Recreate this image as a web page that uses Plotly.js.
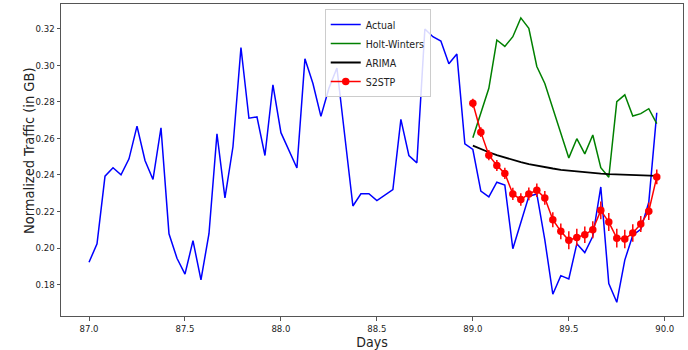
<!DOCTYPE html>
<html>
<head>
<meta charset="utf-8">
<script src="https://cdn.plot.ly/plotly-3.0.1.min.js"></script>
<style>html,body{margin:0;padding:0;background:#fff;}#chart{width:688px;height:350px;}</style>
</head>
<body>
<div id="chart"></div>
<script>
// Time axis (days, hourly samples)
const days = [
  87.0000, 87.0417, 87.0833, 87.1250, 87.1667, 87.2083, 87.2500, 87.2917, 87.3333, 87.3750, 87.4167, 87.4583,
  87.5000, 87.5417, 87.5833, 87.6250, 87.6667, 87.7083, 87.7500, 87.7917, 87.8333, 87.8750, 87.9167, 87.9583,
  88.0000, 88.0417, 88.0833, 88.1250, 88.1667, 88.2083, 88.2500, 88.2917, 88.3333, 88.3750, 88.4167, 88.4583,
  88.5000, 88.5417, 88.5833, 88.6250, 88.6667, 88.7083, 88.7500, 88.7917, 88.8333, 88.8750, 88.9167, 88.9583,
  89.0000, 89.0417, 89.0833, 89.1250, 89.1667, 89.2083, 89.2500, 89.2917, 89.3333, 89.3750, 89.4167, 89.4583,
  89.5000, 89.5417, 89.5833, 89.6250, 89.6667, 89.7083, 89.7500, 89.7917, 89.8333, 89.8750, 89.9167, 89.9583
];
const forecastDays = [
  89.0000, 89.0417, 89.0833, 89.1250, 89.1667, 89.2083, 89.2500, 89.2917, 89.3333, 89.3750, 89.4167, 89.4583,
  89.5000, 89.5417, 89.5833, 89.6250, 89.6667, 89.7083, 89.7500, 89.7917, 89.8333, 89.8750, 89.9167, 89.9583
];
const actual = [
  0.1922, 0.2023, 0.2393, 0.2439, 0.2400, 0.2488, 0.2667, 0.2479, 0.2375, 0.2658, 0.2078, 0.1944,
  0.1857, 0.2040, 0.1826, 0.2078, 0.2625, 0.2274, 0.2554, 0.3097, 0.2710, 0.2717, 0.2506, 0.2893,
  0.2631, 0.2530, 0.2438, 0.3035, 0.2900, 0.2720, 0.2874, 0.2985, 0.2605, 0.2230, 0.2297, 0.2297,
  0.2259, 0.2289, 0.2320, 0.2704, 0.2506, 0.2466, 0.3198, 0.3156, 0.3132, 0.3008, 0.3061, 0.2570,
  0.2539, 0.2311, 0.2280, 0.2360, 0.2344, 0.1996, 0.2140, 0.2283, 0.2296, 0.2045, 0.1747, 0.1849,
  0.1831, 0.2023, 0.1975, 0.2064, 0.2334, 0.1805, 0.1703, 0.1934, 0.2070, 0.2102, 0.2250, 0.2740
];
const holtWinters = [
  0.2603, 0.2740, 0.2874, 0.3138, 0.3103, 0.3156, 0.3259, 0.3202, 0.2993, 0.2900, 0.2761, 0.2627,
  0.2493, 0.2598, 0.2515, 0.2618, 0.2439, 0.2387, 0.2801, 0.2838, 0.2722, 0.2735, 0.2762, 0.2680
];
const arima = [
  0.2560, 0.2541, 0.2524, 0.2508, 0.2494, 0.2481, 0.2470, 0.2459, 0.2450, 0.2442, 0.2435, 0.2428,
  0.2423, 0.2418, 0.2414, 0.2410, 0.2407, 0.2404, 0.2402, 0.2400, 0.2398, 0.2397, 0.2396, 0.2395
];
const s2stp = [
  0.2792, 0.2634, 0.2508, 0.2452, 0.2408, 0.2296, 0.2265, 0.2296, 0.2316, 0.2274, 0.2155, 0.2091,
  0.2042, 0.2058, 0.2073, 0.2100, 0.2206, 0.2142, 0.2054, 0.2049, 0.2082, 0.2131, 0.2201, 0.2389
];
const s2stpErr = [
  0.0025, 0.0026, 0.0028, 0.0030, 0.0031, 0.0033, 0.0034, 0.0035, 0.0037, 0.0038, 0.0041, 0.0043,
  0.0049, 0.0047, 0.0045, 0.0047, 0.0049, 0.0049, 0.0051, 0.0051, 0.0048, 0.0044, 0.0048, 0.0040
];
const xTicks = [87.0, 87.5, 88.0, 88.5, 89.0, 89.5, 90.0];
const xTickText = ['87.0', '87.5', '88.0', '88.5', '89.0', '89.5', '90.0'];
const yTicks = [0.18, 0.20, 0.22, 0.24, 0.26, 0.28, 0.30, 0.32];
const yTickText = ['0.18', '0.20', '0.22', '0.24', '0.26', '0.28', '0.30', '0.32'];

const FONT = '"DejaVu Sans Condensed", "DejaVu Sans", sans-serif';

const traces = [
  {x: days, y: actual, name: 'Actual', type: 'scatter', mode: 'lines',
   line: {color: '#0000ff', width: 1.5}},
  {x: forecastDays, y: holtWinters, name: 'Holt-Winters', type: 'scatter', mode: 'lines',
   line: {color: '#008000', width: 1.5}},
  {x: forecastDays, y: arima, name: 'ARIMA', type: 'scatter', mode: 'lines',
   line: {color: '#000000', width: 1.8}},
  {x: forecastDays, y: s2stp, name: 'S2STP', type: 'scatter', mode: 'lines+markers',
   line: {color: '#ff0000', width: 1.5},
   marker: {color: '#ff0000', size: 7.5},
   error_y: {type: 'data', array: s2stpErr, visible: true, color: '#ff0000', thickness: 1.5, width: 0}}
];

const axisCommon = {
  showgrid: false, zeroline: false, showline: true, mirror: true,
  linecolor: '#555', linewidth: 1, ticks: 'outside', ticklen: 3.5, tickwidth: 1, tickcolor: '#555',
  tickfont: {family: FONT, size: 9.5, color: '#222'}, automargin: false
};

const layout = {
  width: 688, height: 350,
  margin: {l: 61, r: 5, t: 4, b: 34},
  paper_bgcolor: '#ffffff', plot_bgcolor: '#ffffff',
  showlegend: true,
  xaxis: Object.assign({}, axisCommon, {
    range: [86.854, 90.095], tickmode: 'array', tickvals: xTicks, ticktext: xTickText,
    title: {text: 'Days', font: {family: FONT, size: 14, color: '#222'}, standoff: 4}
  }),
  yaxis: Object.assign({}, axisCommon, {
    range: [0.1628, 0.3335], tickmode: 'array', tickvals: yTicks, ticktext: yTickText
  }),
  legend: {
    x: 0.424, y: 0.984, xanchor: 'left', yanchor: 'top',
    bgcolor: 'rgba(255,255,255,0.85)', bordercolor: '#cccccc', borderwidth: 1,
    font: {family: FONT, size: 10.5, color: '#222'}, tracegroupgap: 0, itemwidth: 30
  },
  annotations: [{
    text: 'Normalized Traffic (in GB)', textangle: -90, showarrow: false,
    xref: 'paper', yref: 'paper', x: -0.0514, y: 0.529, xanchor: 'center', yanchor: 'middle',
    font: {family: FONT, size: 14.5, color: '#222'}
  }]
};

Plotly.newPlot('chart', traces, layout, {displayModeBar: false, staticPlot: true});
</script>
</body>
</html>
